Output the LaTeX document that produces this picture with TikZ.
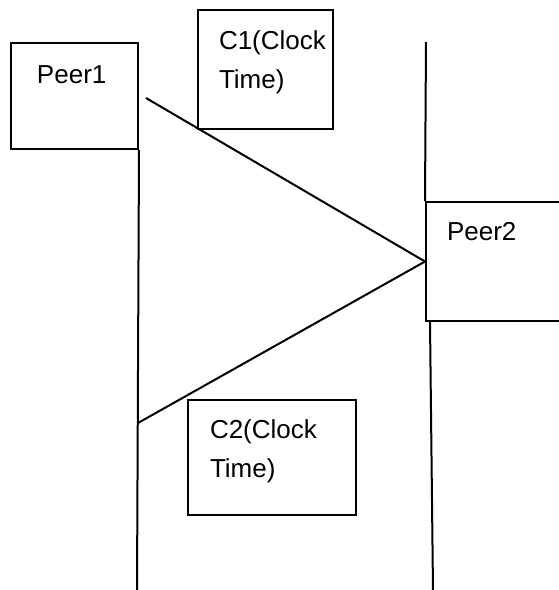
\documentclass[tikz,border=0pt]{standalone}
\usepackage{fontspec}
\setmainfont{Liberation Sans}
\begin{document}
\begin{tikzpicture}[x=1pt,y=-1pt,line width=2pt,
  box/.style={draw,rectangle,inner sep=0pt,anchor=north west},
  lbl/.style={inner sep=0pt,anchor=base west,align=left,font=\fontsize{26}{39}\selectfont}]
\useasboundingbox (0,0) rectangle (558,590);
% boxes
\node[box,minimum width=127pt,minimum height=106pt] (peer1) at (10,42) {};
\node[box,minimum width=135pt,minimum height=119pt] (c1) at (197,9) {};
\node[box,minimum width=137pt,minimum height=119pt] (peer2) at (425,201) {};
\node[box,minimum width=168pt,minimum height=115pt] (c2) at (187,399) {};
% labels (anchored at the baseline of the last line)
\node[lbl] (t1) at (36,83) {Peer1};
\node[lbl] (t2) at (218,88) {C1(Clock\\Time)};
\node[lbl] (t3) at (446,240) {Peer2};
\node[lbl] (t4) at (209,477) {C2(Clock\\Time)};
% coordinates
\coordinate (p1bot) at (137,590);
\coordinate (p2top) at (426,42);
\coordinate (p2bot) at (433,590);
\coordinate (send) at (146,98);
\coordinate (recv) at (138,423);
% lifelines
\draw (peer1.south east) -- (p1bot);
\draw (p2top) -- (peer2.north west);
\draw (peer2.south west) ++(5,0) coordinate (p2s) (p2s) -- (p2bot);
% messages
\draw (send) -- (peer2.west);
\draw (peer2.west) -- (recv);
\end{tikzpicture}
\end{document}
